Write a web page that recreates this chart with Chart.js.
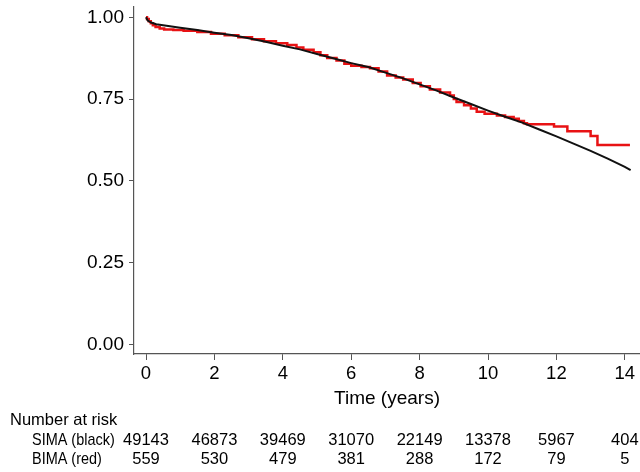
<!DOCTYPE html>
<html>
<head>
<meta charset="utf-8">
<script src="https://cdn.jsdelivr.net/npm/chart.js@4.4.1/dist/chart.umd.min.js"></script>
<style>
  html, body { margin: 0; padding: 0; background: #fff; }
  canvas { display: block; }
</style>
</head>
<body>
<canvas id="km" width="640" height="472"></canvas>
<script>
// tick positions and number-at-risk table
var timeTicks = [0, 2, 4, 6, 8, 10, 12, 14];
var survTicks = [0, 0.25, 0.5, 0.75, 1];
var simaAtRisk = [49143, 46873, 39469, 31070, 22149, 13378, 5967, 404];
var bimaAtRisk = [559, 530, 479, 381, 288, 172, 79, 5];

// SIMA (black) survival
var simaTime = [0, 0.05, 0.15, 0.3, 0.6, 1.0, 1.5, 2.0, 2.5, 3.0, 3.5, 4.0, 4.5, 5.0, 5.5,
  6.0, 6.5, 7.0, 7.5, 8.0, 8.5, 9.0, 9.5, 10.0, 10.5, 11.0, 11.5, 12.0, 12.5, 13.0, 13.5, 14.0, 14.17];
var simaSurv = [1.0, 0.990, 0.984, 0.979, 0.974, 0.968, 0.961, 0.953, 0.946, 0.936, 0.925, 0.913,
  0.902, 0.888, 0.874, 0.860, 0.848, 0.831, 0.814, 0.795, 0.776, 0.755, 0.735, 0.715, 0.696,
  0.678, 0.657, 0.636, 0.614, 0.592, 0.568, 0.543, 0.533];

// BIMA (red) survival, step function
var bimaTime = [0, 0.03, 0.08, 0.14, 0.2, 0.28, 0.4, 0.53, 0.8, 1.1, 1.5, 1.9, 2.3, 2.7, 3.1,
  3.45, 3.8, 4.13, 4.4, 4.6, 4.9, 5.1, 5.3, 5.57, 5.8, 6.0, 6.3, 6.55, 6.8, 7.05, 7.3, 7.52,
  7.8, 8.03, 8.3, 8.6, 8.89, 9.0, 9.08, 9.3, 9.5, 9.67, 9.9, 10.26, 10.5, 10.75, 10.9, 11.05,
  11.14, 11.93, 12.32, 13.0, 13.2, 14.15];
var bimaSurv = [1.0, 0.995, 0.988, 0.982, 0.976, 0.970, 0.966, 0.963, 0.961, 0.959, 0.955,
  0.950, 0.945, 0.939, 0.933, 0.927, 0.921, 0.915, 0.908, 0.901, 0.893, 0.884, 0.876, 0.868,
  0.858, 0.852, 0.848, 0.844, 0.834, 0.822, 0.816, 0.810, 0.799, 0.789, 0.779, 0.770, 0.761,
  0.750, 0.741, 0.731, 0.721, 0.711, 0.705, 0.700, 0.695, 0.690, 0.683, 0.676, 0.673, 0.666,
  0.652, 0.637, 0.610, 0.610];

var FONT = '"Liberation Sans", Arial, Helvetica, sans-serif';

function toPoints(xs, ys) {
  var out = [];
  for (var i = 0; i < xs.length; i++) out.push({ x: xs[i], y: ys[i] });
  return out;
}

// number at risk table under the x axis
var riskTable = {
  id: 'riskTable',
  afterDraw: function (chart) {
    var ctx = chart.ctx;
    var xs = chart.scales.x;
    ctx.save();
    ctx.fillStyle = '#000';
    ctx.textBaseline = 'middle';

    ctx.font = '16.5px ' + FONT;
    ctx.textAlign = 'left';
    ctx.fillText('Number at risk', 10, 420);

    var rows = [
      { label: 'SIMA (black)', values: simaAtRisk, y: 440 },
      { label: 'BIMA (red)', values: bimaAtRisk, y: 459 }
    ];
    rows.forEach(function (row) {
      // labels look horizontally squeezed in the original
      ctx.save();
      ctx.font = '17px ' + FONT;
      ctx.textAlign = 'left';
      ctx.translate(32, row.y);
      ctx.scale(0.85, 1);
      ctx.fillText(row.label, 0, 0);
      ctx.restore();

      ctx.font = '16.5px ' + FONT;
      ctx.textAlign = 'center';
      row.values.forEach(function (v, i) {
        ctx.fillText(String(v), xs.getPixelForValue(timeTicks[i]), row.y);
      });
    });
    ctx.restore();
  }
};

new Chart(document.getElementById('km'), {
  type: 'line',
  data: {
    datasets: [
      {
        label: 'SIMA',
        data: toPoints(simaTime, simaSurv),
        borderColor: '#111',
        borderWidth: 2,
        pointRadius: 0,
        tension: 0,
        fill: false
      },
      {
        label: 'BIMA',
        data: toPoints(bimaTime, bimaSurv),
        borderColor: 'rgb(232,18,20)',
        borderWidth: 2.5,
        pointRadius: 0,
        stepped: true,
        fill: false
      }
    ]
  },
  options: {
    responsive: false,
    animation: false,
    events: [],
    layout: { padding: { top: 7, left: 0, right: 0, bottom: 0 } },
    plugins: { legend: { display: false }, tooltip: { enabled: false } },
    scales: {
      x: {
        type: 'linear',
        min: -0.351,
        max: 14.444,
        afterBuildTicks: function (scale) {
          scale.ticks = timeTicks.map(function (v) { return { value: v }; });
        },
        afterFit: function (scale) {
          scale.height = 118;
          scale.paddingLeft = 0;
          scale.paddingRight = 0;
        },
        grid: { drawOnChartArea: false, drawTicks: true, tickLength: 6, color: '#555' },
        border: { display: true, color: '#555', width: 1.2 },
        ticks: { color: '#000', font: { family: FONT, size: 18.5 }, padding: 3, maxRotation: 0, autoSkip: false },
        title: {
          display: true,
          text: 'Time (years)',
          color: '#000',
          font: { family: FONT, size: 19 },
          padding: { top: 0, bottom: 62 }
        }
      },
      y: {
        type: 'linear',
        min: -0.029,
        max: 1.0315,
        afterBuildTicks: function (scale) {
          scale.ticks = survTicks.map(function (v) { return { value: v }; });
        },
        afterFit: function (scale) {
          scale.width = 134;
          scale.paddingTop = 0;
          scale.paddingBottom = 0;
        },
        grid: { drawOnChartArea: false, drawTicks: true, tickLength: 5, color: '#555' },
        border: { display: true, color: '#555', width: 1.2 },
        ticks: {
          color: '#000',
          font: { family: FONT, size: 19 },
          padding: 5,
          autoSkip: false,
          callback: function (v) { return Number(v).toFixed(2); }
        }
      }
    }
  },
  plugins: [riskTable]
});
</script>
</body>
</html>
